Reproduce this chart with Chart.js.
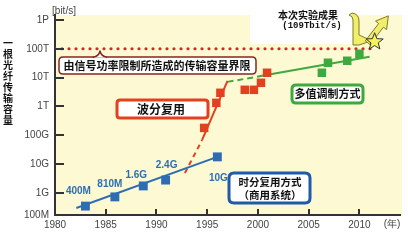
<!DOCTYPE html>
<html><head><meta charset="utf-8">
<script src="https://cdn.jsdelivr.net/npm/chart.js@4/dist/chart.umd.min.js"></script>
<style>html,body{margin:0;padding:0;background:#fff}canvas{display:block}</style>
</head><body>
<canvas id="c" width="408" height="240"></canvas>
<script>
// ---- data ----
const yTickValues = [1.72e8, 1e9, 1e10, 1e11, 1e12, 1e13, 1e14, 1e15];
const yTickLabels = ['100M','1G','10G','100G','1T','10T','100T','1P'];
const xTickYears = [1980, 1985, 1990, 1995, 2000, 2005, 2010];

const tdmYears  = [1983.0, 1985.9, 1988.7, 1990.9, 1996.0];
const tdmValues = [3.5e8, 7.3e8, 1.75e9, 2.8e9, 1.78e10];
const tdmLabels = ['400M', '810M', '1.6G', '2.4G', '10G'];
const tdmTrendYears  = [1982.1, 1996.0];
const tdmTrendValues = [3.0e8, 1.78e10];

const wdmYears  = [1994.7, 1995.9, 1996.3, 1998.7, 1999.6, 2000.3, 2000.9];
const wdmValues = [1.8e11, 1.33e12, 2.97e12, 3.77e12, 3.77e12, 6.6e12, 1.47e13];
const wdmDashYears  = [1992.8, 1994.5];
const wdmDashValues = [4.9e9, 6.9e10];
const wdmTrendYears  = [1994.5, 1997.0];
const wdmTrendValues = [6.9e10, 7.7e12];

const mlYears  = [2006.3, 2006.9, 2008.8, 2010.0];
const mlValues = [1.47e13, 3.27e13, 3.83e13, 6.7e13];
const mlDashYears  = [1997.0, 2000.4];
const mlDashValues = [7.1e12, 1.15e13];
const mlTrendYears  = [2000.4, 2011.0];
const mlTrendValues = [1.15e13, 5.3e13];

const limitYears  = [1980, 2011.7];
const limitValues = [1e14, 1e14];

const recordYears  = [2011.5];
const recordValues = [1.75e14];

// label offsets (style)
const tdmLabelOffsets = [[-7,-15],[-5,-13],[-7,-11],[1,-15],[1,21]];

const pts = (xs, ys) => xs.map((x, i) => ({x: x, y: ys[i]}));

const BLUE = '#2f6db3', RED = '#e2401e', GREEN = '#3fa83f';
const CJK = '"Noto Sans CJK SC"';

function roundRect(ctx, x, y, w, h, r) {
  ctx.beginPath();
  ctx.moveTo(x + r, y);
  ctx.lineTo(x + w - r, y); ctx.quadraticCurveTo(x + w, y, x + w, y + r);
  ctx.lineTo(x + w, y + h - r); ctx.quadraticCurveTo(x + w, y + h, x + w - r, y + h);
  ctx.lineTo(x + r, y + h); ctx.quadraticCurveTo(x, y + h, x, y + h - r);
  ctx.lineTo(x, y + r); ctx.quadraticCurveTo(x, y, x + r, y);
  ctx.closePath();
}

const bgPlugin = {
  id: 'bg',
  beforeDraw(chart) {
    const {ctx, chartArea: a} = chart;
    ctx.save();
    ctx.fillStyle = '#fcf9d3';
    ctx.fillRect(a.left, a.top, 402 - a.left, a.bottom - a.top);
    ctx.fillStyle = '#ffffff';
    ctx.fillRect(250, 0, 108, 44);
    ctx.restore();
  }
};

const decoPlugin = {
  id: 'deco',
  afterDraw(chart) {
    const {ctx, chartArea: a, scales} = chart;
    ctx.save();
    // inner tick marks
    ctx.strokeStyle = '#333'; ctx.lineWidth = 2;
    scales.y.ticks.forEach(t => {
      const y = Math.round(scales.y.getPixelForValue(t.value));
      ctx.beginPath(); ctx.moveTo(a.left, y); ctx.lineTo(a.left + 9, y); ctx.stroke();
    });
    scales.x.ticks.forEach(t => {
      const x = Math.round(scales.x.getPixelForValue(t.value));
      ctx.beginPath(); ctx.moveTo(x, a.bottom); ctx.lineTo(x, a.bottom - 6); ctx.stroke();
    });

    // TDM labels
    const meta = chart.getDatasetMeta(0);
    ctx.fillStyle = BLUE; ctx.font = 'bold 10px "Liberation Sans", Arial';
    ctx.textAlign = 'center'; ctx.textBaseline = 'middle';
    meta.data.forEach((el, i) => {
      ctx.fillText(tdmLabels[i], el.x + tdmLabelOffsets[i][0], el.y + tdmLabelOffsets[i][1]);
    });

    // axis texts
    ctx.fillStyle = '#444'; ctx.font = '10px "Liberation Sans", Arial';
    ctx.fillText('[bit/s]', 64, 11);
    ctx.fillText('(年)', 392, 224);

    // y title
    ctx.fillStyle = '#111'; ctx.font = 'bold 10px ' + CJK;
    '一根光纤传输容量'.split('').forEach((ch, i) => ctx.fillText(ch, 8, 43 + i * 11));

    // power limit box
    ctx.lineJoin = 'round';
    roundRect(ctx, 59, 57, 197, 17, 4);
    ctx.fillStyle = '#fff'; ctx.fill();
    ctx.strokeStyle = '#8b2525'; ctx.lineWidth = 1.5; ctx.stroke();
    ctx.beginPath();
    ctx.moveTo(93, 57.5); ctx.quadraticCurveTo(99, 56, 100, 51); ctx.quadraticCurveTo(101, 56, 107, 57.5);
    ctx.fillStyle = '#fff'; ctx.fill(); ctx.stroke();
    ctx.fillStyle = '#fff'; ctx.fillRect(94, 57.8, 12, 2);
    ctx.fillStyle = '#111'; ctx.font = 'bold 11px ' + CJK;
    ctx.fillText('由信号功率限制所造成的传输容量界限', 157, 66);

    // WDM box
    roundRect(ctx, 117, 100, 91, 18, 3);
    ctx.fillStyle = '#fff'; ctx.fill();
    ctx.strokeStyle = RED; ctx.lineWidth = 3; ctx.stroke();
    ctx.fillStyle = '#111'; ctx.font = 'bold 12px ' + CJK;
    ctx.fillText('波分复用', 161, 109);

    // multilevel box
    roundRect(ctx, 292, 85, 71, 18, 4);
    ctx.fillStyle = '#fff'; ctx.fill();
    ctx.strokeStyle = GREEN; ctx.lineWidth = 3; ctx.stroke();
    ctx.fillStyle = '#111'; ctx.font = 'bold 11px ' + CJK;
    ctx.fillText('多值调制方式', 327.5, 94);

    // TDM box
    roundRect(ctx, 229, 173, 81, 30, 5);
    ctx.fillStyle = '#fff'; ctx.fill();
    ctx.strokeStyle = '#1f5ba8'; ctx.lineWidth = 3; ctx.stroke();
    ctx.fillStyle = '#111'; ctx.font = 'bold 10.5px ' + CJK;
    ctx.fillText('时分复用方式', 270, 182);
    ctx.fillText('（商用系统）', 270, 195);

    // record callout
    ctx.font = 'bold 10px ' + CJK;
    ctx.fillText('本次实验成果', 308, 15);
    ctx.font = 'bold 9px "Liberation Mono", monospace';
    ctx.fillText('(109Tbit/s)', 312, 26);

    const sm = chart.getDatasetMeta(chart.data.datasets.length - 1).data[0];
    const sx = sm.x, sy = sm.y;
    // bracket
    ctx.beginPath();
    ctx.moveTo(352, 13);
    ctx.quadraticCurveTo(359, 14, 359, 21);
    ctx.lineTo(359, 35);
    ctx.lineTo(sx - 3, sy - 1);
    ctx.lineTo(359, 45);
    ctx.lineTo(353, 45);
    ctx.lineTo(353, 20);
    ctx.quadraticCurveTo(353, 16, 349, 15);
    ctx.closePath();
    ctx.fillStyle = '#f1ee6a'; ctx.fill();
    ctx.strokeStyle = '#7d7a2a'; ctx.lineWidth = 1; ctx.stroke();
    // arrow
    const S = [sx - 7, sy + 1], ux = 0.61, uy = -0.79, nx = 0.79, ny = 0.61;
    const B = [S[0] + ux * 22, S[1] + uy * 22], T = [S[0] + ux * 34, S[1] + uy * 34];
    ctx.beginPath();
    ctx.moveTo(S[0] + nx * 3, S[1] + ny * 3);
    ctx.lineTo(B[0] + nx * 3, B[1] + ny * 3);
    ctx.lineTo(B[0] + nx * 7, B[1] + ny * 7);
    ctx.lineTo(T[0], T[1]);
    ctx.lineTo(B[0] - nx * 7, B[1] - ny * 7);
    ctx.lineTo(B[0] - nx * 3, B[1] - ny * 3);
    ctx.lineTo(S[0] - nx * 3, S[1] - ny * 3);
    ctx.closePath();
    ctx.fillStyle = '#f1ee6a'; ctx.fill(); ctx.stroke();
    // star
    ctx.beginPath();
    for (let k = 0; k < 10; k++) {
      const r = k % 2 === 0 ? 9 : 3.8;
      const ang = -Math.PI / 2 + k * Math.PI / 5;
      const px = sx + r * Math.cos(ang), py = sy + r * Math.sin(ang);
      k === 0 ? ctx.moveTo(px, py) : ctx.lineTo(px, py);
    }
    ctx.closePath();
    ctx.fillStyle = '#f6f25a'; ctx.fill();
    ctx.strokeStyle = '#333'; ctx.lineWidth = 1; ctx.stroke();
    ctx.restore();
  }
};

new Chart(document.getElementById('c'), {
  type: 'scatter',
  data: {
    datasets: [
      {data: pts(tdmYears, tdmValues), pointStyle: 'rect', pointRadius: 6.3, backgroundColor: BLUE, borderWidth: 0, showLine: false},
      {data: pts(tdmTrendYears, tdmTrendValues), showLine: true, borderColor: BLUE, borderWidth: 2, pointRadius: 0},
      {data: pts(wdmYears, wdmValues), pointStyle: 'rect', pointRadius: 6, backgroundColor: RED, borderWidth: 0, showLine: false},
      {data: pts(wdmDashYears, wdmDashValues), showLine: true, borderColor: RED, borderWidth: 2, borderDash: [5, 4], pointRadius: 0},
      {data: pts(wdmTrendYears, wdmTrendValues), showLine: true, borderColor: RED, borderWidth: 2, pointRadius: 0},
      {data: pts(mlYears, mlValues), pointStyle: 'rect', pointRadius: 6, backgroundColor: GREEN, borderWidth: 0, showLine: false},
      {data: pts(mlDashYears, mlDashValues), showLine: true, borderColor: GREEN, borderWidth: 2, borderDash: [6, 4], pointRadius: 0},
      {data: pts(mlTrendYears, mlTrendValues), showLine: true, borderColor: GREEN, borderWidth: 2, pointRadius: 0},
      {data: pts(limitYears, limitValues), showLine: true, borderColor: '#d42626', borderWidth: 3.2, borderDash: [0, 7], borderCapStyle: 'round', pointRadius: 0},
      {data: pts(recordYears, recordValues), showLine: false, pointRadius: 0}
    ]
  },
  options: {
    responsive: false, animation: false, devicePixelRatio: 1,
    layout: {padding: {top: 15, right: 8, left: 0, bottom: 0}},
    plugins: {legend: {display: false}, tooltip: {enabled: false}},
    scales: {
      x: {
        type: 'linear', min: 1980, max: 2014,
        afterBuildTicks: s => { s.ticks = xTickYears.map(v => ({value: v})); },
        afterFit: s => { s.height = 25; },
        grid: {display: true, drawOnChartArea: false, drawTicks: false},
        border: {display: true, color: '#333', width: 2},
        ticks: {autoSkip: false, maxRotation: 0, padding: 4, color: '#444',
                font: {family: '"Liberation Sans", Arial', size: 10}, callback: v => String(v)}
      },
      y: {
        type: 'logarithmic', min: yTickValues[0], max: 1.48e15,
        afterBuildTicks: s => { s.ticks = yTickValues.map(v => ({value: v})); },
        afterFit: s => { s.width = 55; },
        grid: {display: true, drawOnChartArea: false, drawTicks: false},
        border: {display: true, color: '#333', width: 2},
        ticks: {autoSkip: false, padding: 6, color: '#444',
                font: {family: '"Liberation Sans", Arial', size: 10},
                callback: (v, i) => yTickLabels[i]}
      }
    }
  },
  plugins: [bgPlugin, decoPlugin]
});
</script>
</body></html>
